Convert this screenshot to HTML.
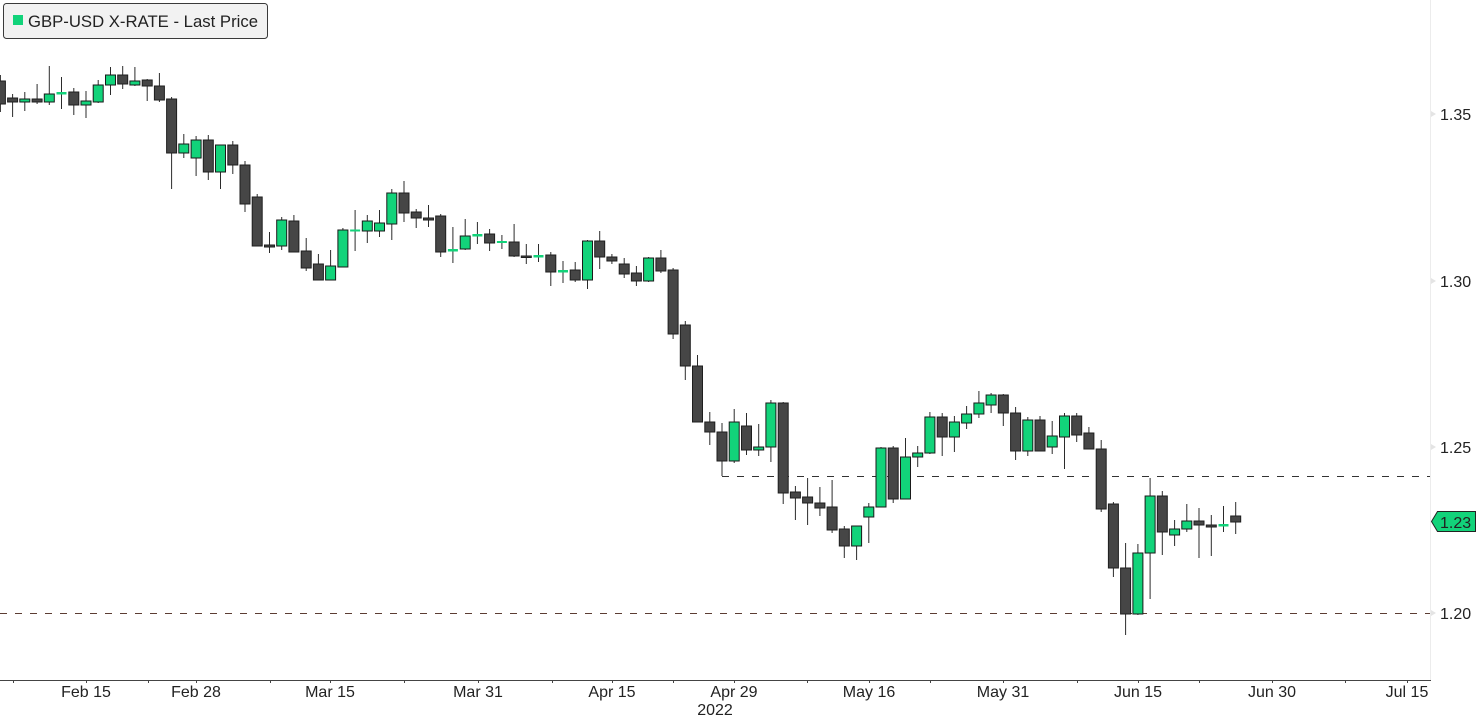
<!DOCTYPE html>
<html><head><meta charset="utf-8"><style>
html,body{margin:0;padding:0;background:#fff;}
svg{display:block;}
text{font-family:"Liberation Sans",Arial,sans-serif;fill:#222;}
.w{stroke:#2b2b2b;stroke-width:1;}
.d{fill:#464646;stroke:#1e1e1e;stroke-width:1;}
.g{fill:#12d37a;stroke:#1a1a1a;stroke-width:1;}
.gd{fill:#12d37a;stroke:none;}
</style></head><body>
<svg width="1476" height="717" viewBox="0 0 1476 717" xmlns="http://www.w3.org/2000/svg">
<rect x="0" y="0" width="1476" height="717" fill="#fff"/>
<line x1="1430.5" y1="0" x2="1430.5" y2="680" stroke="#ececec" stroke-width="1"/>
<line x1="722" y1="476.5" x2="1430" y2="476.5" stroke="#333" stroke-width="1" stroke-dasharray="7 8"/>
<line x1="0" y1="613.5" x2="1430" y2="613.5" stroke="#5c3d33" stroke-width="1" stroke-dasharray="7 8"/>
<g id="candles"></g>
<g>
<line class="w" x1="0.4" y1="75" x2="0.4" y2="112"/><rect class="d" x="-4.6" y="81" width="10" height="23"/>
<line class="w" x1="12.6" y1="94" x2="12.6" y2="117"/><rect class="d" x="7.6" y="98" width="10" height="4"/>
<line class="w" x1="24.8" y1="92" x2="24.8" y2="111"/><rect class="g" x="19.8" y="99" width="10" height="3"/>
<line class="w" x1="37.1" y1="84" x2="37.1" y2="104"/><rect class="d" x="32.1" y="99" width="10" height="3"/>
<line class="w" x1="49.3" y1="66" x2="49.3" y2="105"/><rect class="g" x="44.3" y="94" width="10" height="8"/>
<line class="w" x1="61.5" y1="77" x2="61.5" y2="109"/><rect class="gd" x="56.5" y="92" width="10" height="2.5"/>
<line class="w" x1="73.8" y1="88" x2="73.8" y2="115"/><rect class="d" x="68.8" y="92" width="10" height="13"/>
<line class="w" x1="86.0" y1="91" x2="86.0" y2="118"/><rect class="g" x="81.0" y="101" width="10" height="4"/>
<line class="w" x1="98.2" y1="80" x2="98.2" y2="103"/><rect class="g" x="93.2" y="85" width="10" height="17"/>
<line class="w" x1="110.5" y1="67" x2="110.5" y2="95"/><rect class="g" x="105.5" y="75" width="10" height="10"/>
<line class="w" x1="122.7" y1="66" x2="122.7" y2="89"/><rect class="d" x="117.7" y="75" width="10" height="9"/>
<line class="w" x1="134.9" y1="67" x2="134.9" y2="86"/><rect class="g" x="129.9" y="81" width="10" height="4"/>
<line class="w" x1="147.2" y1="79" x2="147.2" y2="101"/><rect class="d" x="142.2" y="80" width="10" height="6"/>
<line class="w" x1="159.4" y1="73" x2="159.4" y2="102"/><rect class="d" x="154.4" y="86" width="10" height="14"/>
<line class="w" x1="171.6" y1="97" x2="171.6" y2="189"/><rect class="d" x="166.6" y="99" width="10" height="54"/>
<line class="w" x1="183.8" y1="134" x2="183.8" y2="158"/><rect class="g" x="178.8" y="144" width="10" height="9"/>
<line class="w" x1="196.1" y1="136" x2="196.1" y2="176"/><rect class="g" x="191.1" y="140" width="10" height="18"/>
<line class="w" x1="208.3" y1="135" x2="208.3" y2="180"/><rect class="d" x="203.3" y="140" width="10" height="32"/>
<line class="w" x1="220.5" y1="145" x2="220.5" y2="189"/><rect class="g" x="215.5" y="145" width="10" height="27"/>
<line class="w" x1="232.8" y1="141" x2="232.8" y2="174"/><rect class="d" x="227.8" y="145" width="10" height="20"/>
<line class="w" x1="245.0" y1="161" x2="245.0" y2="212"/><rect class="d" x="240.0" y="165" width="10" height="39"/>
<line class="w" x1="257.2" y1="194" x2="257.2" y2="246"/><rect class="d" x="252.2" y="197" width="10" height="49"/>
<line class="w" x1="269.5" y1="232" x2="269.5" y2="253"/><rect class="d" x="264.5" y="245" width="10" height="2"/>
<line class="w" x1="281.7" y1="217" x2="281.7" y2="250"/><rect class="g" x="276.7" y="220" width="10" height="26"/>
<line class="w" x1="293.9" y1="215" x2="293.9" y2="252"/><rect class="d" x="288.9" y="221" width="10" height="31"/>
<line class="w" x1="306.2" y1="238" x2="306.2" y2="271"/><rect class="d" x="301.2" y="251" width="10" height="17"/>
<line class="w" x1="318.4" y1="254" x2="318.4" y2="280"/><rect class="d" x="313.4" y="264" width="10" height="16"/>
<line class="w" x1="330.6" y1="250" x2="330.6" y2="280"/><rect class="g" x="325.6" y="266" width="10" height="14"/>
<line class="w" x1="342.9" y1="228" x2="342.9" y2="267"/><rect class="g" x="337.9" y="230" width="10" height="37"/>
<line class="w" x1="355.1" y1="210" x2="355.1" y2="251"/><rect class="gd" x="350.1" y="229.5" width="10" height="2"/>
<line class="w" x1="367.3" y1="215" x2="367.3" y2="243"/><rect class="g" x="362.3" y="221" width="10" height="10"/>
<line class="w" x1="379.5" y1="210" x2="379.5" y2="237"/><rect class="g" x="374.5" y="223" width="10" height="8"/>
<line class="w" x1="391.8" y1="189" x2="391.8" y2="240"/><rect class="g" x="386.8" y="193" width="10" height="31"/>
<line class="w" x1="404.0" y1="181" x2="404.0" y2="222"/><rect class="d" x="399.0" y="193" width="10" height="20"/>
<line class="w" x1="416.2" y1="209" x2="416.2" y2="228"/><rect class="d" x="411.2" y="212" width="10" height="6"/>
<line class="w" x1="428.5" y1="205" x2="428.5" y2="227"/><rect class="d" x="423.5" y="218" width="10" height="2"/>
<line class="w" x1="440.7" y1="214" x2="440.7" y2="257"/><rect class="d" x="435.7" y="216" width="10" height="36"/>
<line class="w" x1="452.9" y1="227" x2="452.9" y2="263"/><rect class="gd" x="447.9" y="249" width="10" height="2.5"/>
<line class="w" x1="465.2" y1="219" x2="465.2" y2="250"/><rect class="g" x="460.2" y="236" width="10" height="13"/>
<line class="w" x1="477.4" y1="222" x2="477.4" y2="244"/><rect class="gd" x="472.4" y="234" width="10" height="2.5"/>
<line class="w" x1="489.6" y1="229" x2="489.6" y2="251"/><rect class="d" x="484.6" y="234" width="10" height="9"/>
<line class="w" x1="501.9" y1="235" x2="501.9" y2="249"/><rect class="gd" x="496.9" y="241" width="10" height="2"/>
<line class="w" x1="514.1" y1="224" x2="514.1" y2="257"/><rect class="d" x="509.1" y="242" width="10" height="14"/>
<line class="w" x1="526.3" y1="244" x2="526.3" y2="264"/><rect class="d" x="521.3" y="256" width="10" height="1.5"/>
<line class="w" x1="538.5" y1="244" x2="538.5" y2="262"/><rect class="gd" x="533.5" y="255" width="10" height="2.5"/>
<line class="w" x1="550.8" y1="252" x2="550.8" y2="286"/><rect class="d" x="545.8" y="255" width="10" height="17"/>
<line class="w" x1="563.0" y1="261" x2="563.0" y2="283"/><rect class="gd" x="558.0" y="270" width="10" height="2.5"/>
<line class="w" x1="575.2" y1="262" x2="575.2" y2="282"/><rect class="d" x="570.2" y="270" width="10" height="10"/>
<line class="w" x1="587.5" y1="240" x2="587.5" y2="289"/><rect class="g" x="582.5" y="241" width="10" height="39"/>
<line class="w" x1="599.7" y1="231" x2="599.7" y2="269"/><rect class="d" x="594.7" y="241" width="10" height="16"/>
<line class="w" x1="611.9" y1="254" x2="611.9" y2="264"/><rect class="d" x="606.9" y="257" width="10" height="4"/>
<line class="w" x1="624.2" y1="258" x2="624.2" y2="278"/><rect class="d" x="619.2" y="264" width="10" height="10"/>
<line class="w" x1="636.4" y1="266" x2="636.4" y2="286"/><rect class="d" x="631.4" y="273" width="10" height="8"/>
<line class="w" x1="648.6" y1="257" x2="648.6" y2="282"/><rect class="g" x="643.6" y="258" width="10" height="23"/>
<line class="w" x1="660.9" y1="250" x2="660.9" y2="273"/><rect class="d" x="655.9" y="258" width="10" height="13"/>
<line class="w" x1="673.1" y1="268" x2="673.1" y2="339"/><rect class="d" x="668.1" y="270" width="10" height="64"/>
<line class="w" x1="685.3" y1="321" x2="685.3" y2="380"/><rect class="d" x="680.3" y="325" width="10" height="41"/>
<line class="w" x1="697.5" y1="355" x2="697.5" y2="422"/><rect class="d" x="692.5" y="366" width="10" height="56"/>
<line class="w" x1="709.8" y1="412" x2="709.8" y2="445"/><rect class="d" x="704.8" y="422" width="10" height="10"/>
<line class="w" x1="722.0" y1="423" x2="722.0" y2="476"/><rect class="d" x="717.0" y="432" width="10" height="29"/>
<line class="w" x1="734.2" y1="409" x2="734.2" y2="463"/><rect class="g" x="729.2" y="422" width="10" height="39"/>
<line class="w" x1="746.5" y1="413" x2="746.5" y2="455"/><rect class="d" x="741.5" y="426" width="10" height="24"/>
<line class="w" x1="758.7" y1="424" x2="758.7" y2="456"/><rect class="g" x="753.7" y="447" width="10" height="3"/>
<line class="w" x1="770.9" y1="400" x2="770.9" y2="462"/><rect class="g" x="765.9" y="403" width="10" height="44"/>
<line class="w" x1="783.2" y1="402" x2="783.2" y2="504"/><rect class="d" x="778.2" y="403" width="10" height="90"/>
<line class="w" x1="795.4" y1="486" x2="795.4" y2="520"/><rect class="d" x="790.4" y="492" width="10" height="6"/>
<line class="w" x1="807.6" y1="478" x2="807.6" y2="525"/><rect class="d" x="802.6" y="497" width="10" height="6"/>
<line class="w" x1="819.9" y1="487" x2="819.9" y2="516"/><rect class="d" x="814.9" y="503" width="10" height="5"/>
<line class="w" x1="832.1" y1="480" x2="832.1" y2="533"/><rect class="d" x="827.1" y="507" width="10" height="23"/>
<line class="w" x1="844.3" y1="526" x2="844.3" y2="558"/><rect class="d" x="839.3" y="529" width="10" height="17"/>
<line class="w" x1="856.6" y1="526" x2="856.6" y2="560"/><rect class="g" x="851.6" y="526" width="10" height="20"/>
<line class="w" x1="868.8" y1="503" x2="868.8" y2="543"/><rect class="g" x="863.8" y="507" width="10" height="10"/>
<line class="w" x1="881.0" y1="447" x2="881.0" y2="507"/><rect class="g" x="876.0" y="448" width="10" height="59"/>
<line class="w" x1="893.2" y1="446" x2="893.2" y2="503"/><rect class="d" x="888.2" y="448" width="10" height="51"/>
<line class="w" x1="905.5" y1="438" x2="905.5" y2="499"/><rect class="g" x="900.5" y="457" width="10" height="42"/>
<line class="w" x1="917.7" y1="446" x2="917.7" y2="467"/><rect class="g" x="912.7" y="453" width="10" height="4"/>
<line class="w" x1="929.9" y1="412" x2="929.9" y2="454"/><rect class="g" x="924.9" y="417" width="10" height="36"/>
<line class="w" x1="942.2" y1="413" x2="942.2" y2="456"/><rect class="d" x="937.2" y="417" width="10" height="20"/>
<line class="w" x1="954.4" y1="416" x2="954.4" y2="452"/><rect class="g" x="949.4" y="422" width="10" height="15"/>
<line class="w" x1="966.6" y1="406" x2="966.6" y2="429"/><rect class="g" x="961.6" y="414" width="10" height="9"/>
<line class="w" x1="978.9" y1="391" x2="978.9" y2="418"/><rect class="g" x="973.9" y="403" width="10" height="11"/>
<line class="w" x1="991.1" y1="393" x2="991.1" y2="413"/><rect class="g" x="986.1" y="395" width="10" height="10"/>
<line class="w" x1="1003.3" y1="394" x2="1003.3" y2="426"/><rect class="d" x="998.3" y="395" width="10" height="18"/>
<line class="w" x1="1015.6" y1="407" x2="1015.6" y2="460"/><rect class="d" x="1010.6" y="413" width="10" height="38"/>
<line class="w" x1="1027.8" y1="417" x2="1027.8" y2="456"/><rect class="g" x="1022.8" y="420" width="10" height="31"/>
<line class="w" x1="1040.0" y1="416" x2="1040.0" y2="451"/><rect class="d" x="1035.0" y="420" width="10" height="31"/>
<line class="w" x1="1052.2" y1="421" x2="1052.2" y2="454"/><rect class="g" x="1047.2" y="436" width="10" height="11"/>
<line class="w" x1="1064.5" y1="413" x2="1064.5" y2="469"/><rect class="g" x="1059.5" y="416" width="10" height="21"/>
<line class="w" x1="1076.7" y1="413" x2="1076.7" y2="442"/><rect class="d" x="1071.7" y="416" width="10" height="19"/>
<line class="w" x1="1088.9" y1="427" x2="1088.9" y2="449"/><rect class="d" x="1083.9" y="433" width="10" height="16"/>
<line class="w" x1="1101.2" y1="440" x2="1101.2" y2="512"/><rect class="d" x="1096.2" y="449" width="10" height="60"/>
<line class="w" x1="1113.4" y1="502" x2="1113.4" y2="577"/><rect class="d" x="1108.4" y="504" width="10" height="64"/>
<line class="w" x1="1125.6" y1="543" x2="1125.6" y2="635"/><rect class="d" x="1120.6" y="568" width="10" height="46"/>
<line class="w" x1="1137.9" y1="544" x2="1137.9" y2="615"/><rect class="g" x="1132.9" y="553" width="10" height="61"/>
<line class="w" x1="1150.1" y1="478" x2="1150.1" y2="599"/><rect class="g" x="1145.1" y="496" width="10" height="57"/>
<line class="w" x1="1162.3" y1="491" x2="1162.3" y2="555"/><rect class="d" x="1157.3" y="496" width="10" height="36"/>
<line class="w" x1="1174.6" y1="520" x2="1174.6" y2="546"/><rect class="g" x="1169.6" y="529" width="10" height="6"/>
<line class="w" x1="1186.8" y1="504" x2="1186.8" y2="532"/><rect class="g" x="1181.8" y="521" width="10" height="8"/>
<line class="w" x1="1199.0" y1="508" x2="1199.0" y2="558"/><rect class="d" x="1194.0" y="521" width="10" height="4"/>
<line class="w" x1="1211.3" y1="515" x2="1211.3" y2="556"/><rect class="d" x="1206.3" y="525" width="10" height="2"/>
<line class="w" x1="1223.5" y1="506" x2="1223.5" y2="532"/><rect class="gd" x="1218.5" y="524" width="10" height="2.5"/>
<line class="w" x1="1235.7" y1="502" x2="1235.7" y2="534"/><rect class="d" x="1230.7" y="516" width="10" height="6"/>
</g>
<!-- x axis -->
<line x1="0" y1="680.5" x2="1431" y2="680.5" stroke="#444" stroke-width="1"/>
<g stroke="#444" stroke-width="1">
<line x1="13.5" y1="680" x2="13.5" y2="683"/><line x1="86.5" y1="680" x2="86.5" y2="683"/>
<line x1="148.5" y1="680" x2="148.5" y2="683"/><line x1="196.5" y1="680" x2="196.5" y2="683"/>
<line x1="270.5" y1="680" x2="270.5" y2="683"/><line x1="330.5" y1="680" x2="330.5" y2="683"/>
<line x1="404.5" y1="680" x2="404.5" y2="683"/><line x1="478.5" y1="680" x2="478.5" y2="683"/>
<line x1="552.5" y1="680" x2="552.5" y2="683"/><line x1="612.5" y1="680" x2="612.5" y2="683"/>
<line x1="673.5" y1="680" x2="673.5" y2="683"/><line x1="734.5" y1="680" x2="734.5" y2="683"/>
<line x1="807.5" y1="680" x2="807.5" y2="683"/><line x1="869.5" y1="680" x2="869.5" y2="683"/>
<line x1="930.5" y1="680" x2="930.5" y2="683"/><line x1="1003.5" y1="680" x2="1003.5" y2="683"/>
<line x1="1077.5" y1="680" x2="1077.5" y2="683"/><line x1="1138.5" y1="680" x2="1138.5" y2="683"/>
<line x1="1199.5" y1="680" x2="1199.5" y2="683"/><line x1="1272.5" y1="680" x2="1272.5" y2="683"/>
<line x1="1345.5" y1="680" x2="1345.5" y2="683"/><line x1="1407.5" y1="680" x2="1407.5" y2="683"/>
</g>
<g font-size="16" text-anchor="middle">
<text x="86" y="697">Feb 15</text>
<text x="196" y="697">Feb 28</text>
<text x="330" y="697">Mar 15</text>
<text x="478" y="697">Mar 31</text>
<text x="612" y="697">Apr 15</text>
<text x="734" y="697">Apr 29</text>
<text x="869" y="697">May 16</text>
<text x="1003" y="697">May 31</text>
<text x="1138" y="697">Jun 15</text>
<text x="1272" y="697">Jun 30</text>
<text x="1407" y="697">Jul 15</text>
<text x="715" y="715">2022</text>
</g>
<!-- y axis -->
<g fill="#e4e4e4">
<polygon points="1431,111 1436,114 1431,117"/>
<polygon points="1431,278 1436,281 1431,284"/>
<polygon points="1431,444 1436,447 1431,450"/>
<polygon points="1431,610 1436,613 1431,616"/>
</g>
<g font-size="16">
<text x="1440" y="120">1.35</text>
<text x="1440" y="287">1.30</text>
<text x="1440" y="453">1.25</text>
<text x="1440" y="619">1.20</text>
</g>
<polygon points="1431.5,521.5 1437.5,511.5 1475.5,511.5 1475.5,531.5 1437.5,531.5" fill="#12d37a" stroke="#222" stroke-width="1"/>
<text x="1440" y="528" font-size="16" fill="#111">1.23</text>
<!-- legend -->
<rect x="3.5" y="3.5" width="264" height="35" rx="3" ry="3" fill="#f2f2f2" stroke="#3a3a3a" stroke-width="1"/>
<rect x="13" y="15" width="10" height="10" fill="#12d37a"/>
<text x="28" y="27" font-size="17" textLength="230" lengthAdjust="spacingAndGlyphs">GBP-USD X-RATE - Last Price</text>
</svg>
</body></html>
